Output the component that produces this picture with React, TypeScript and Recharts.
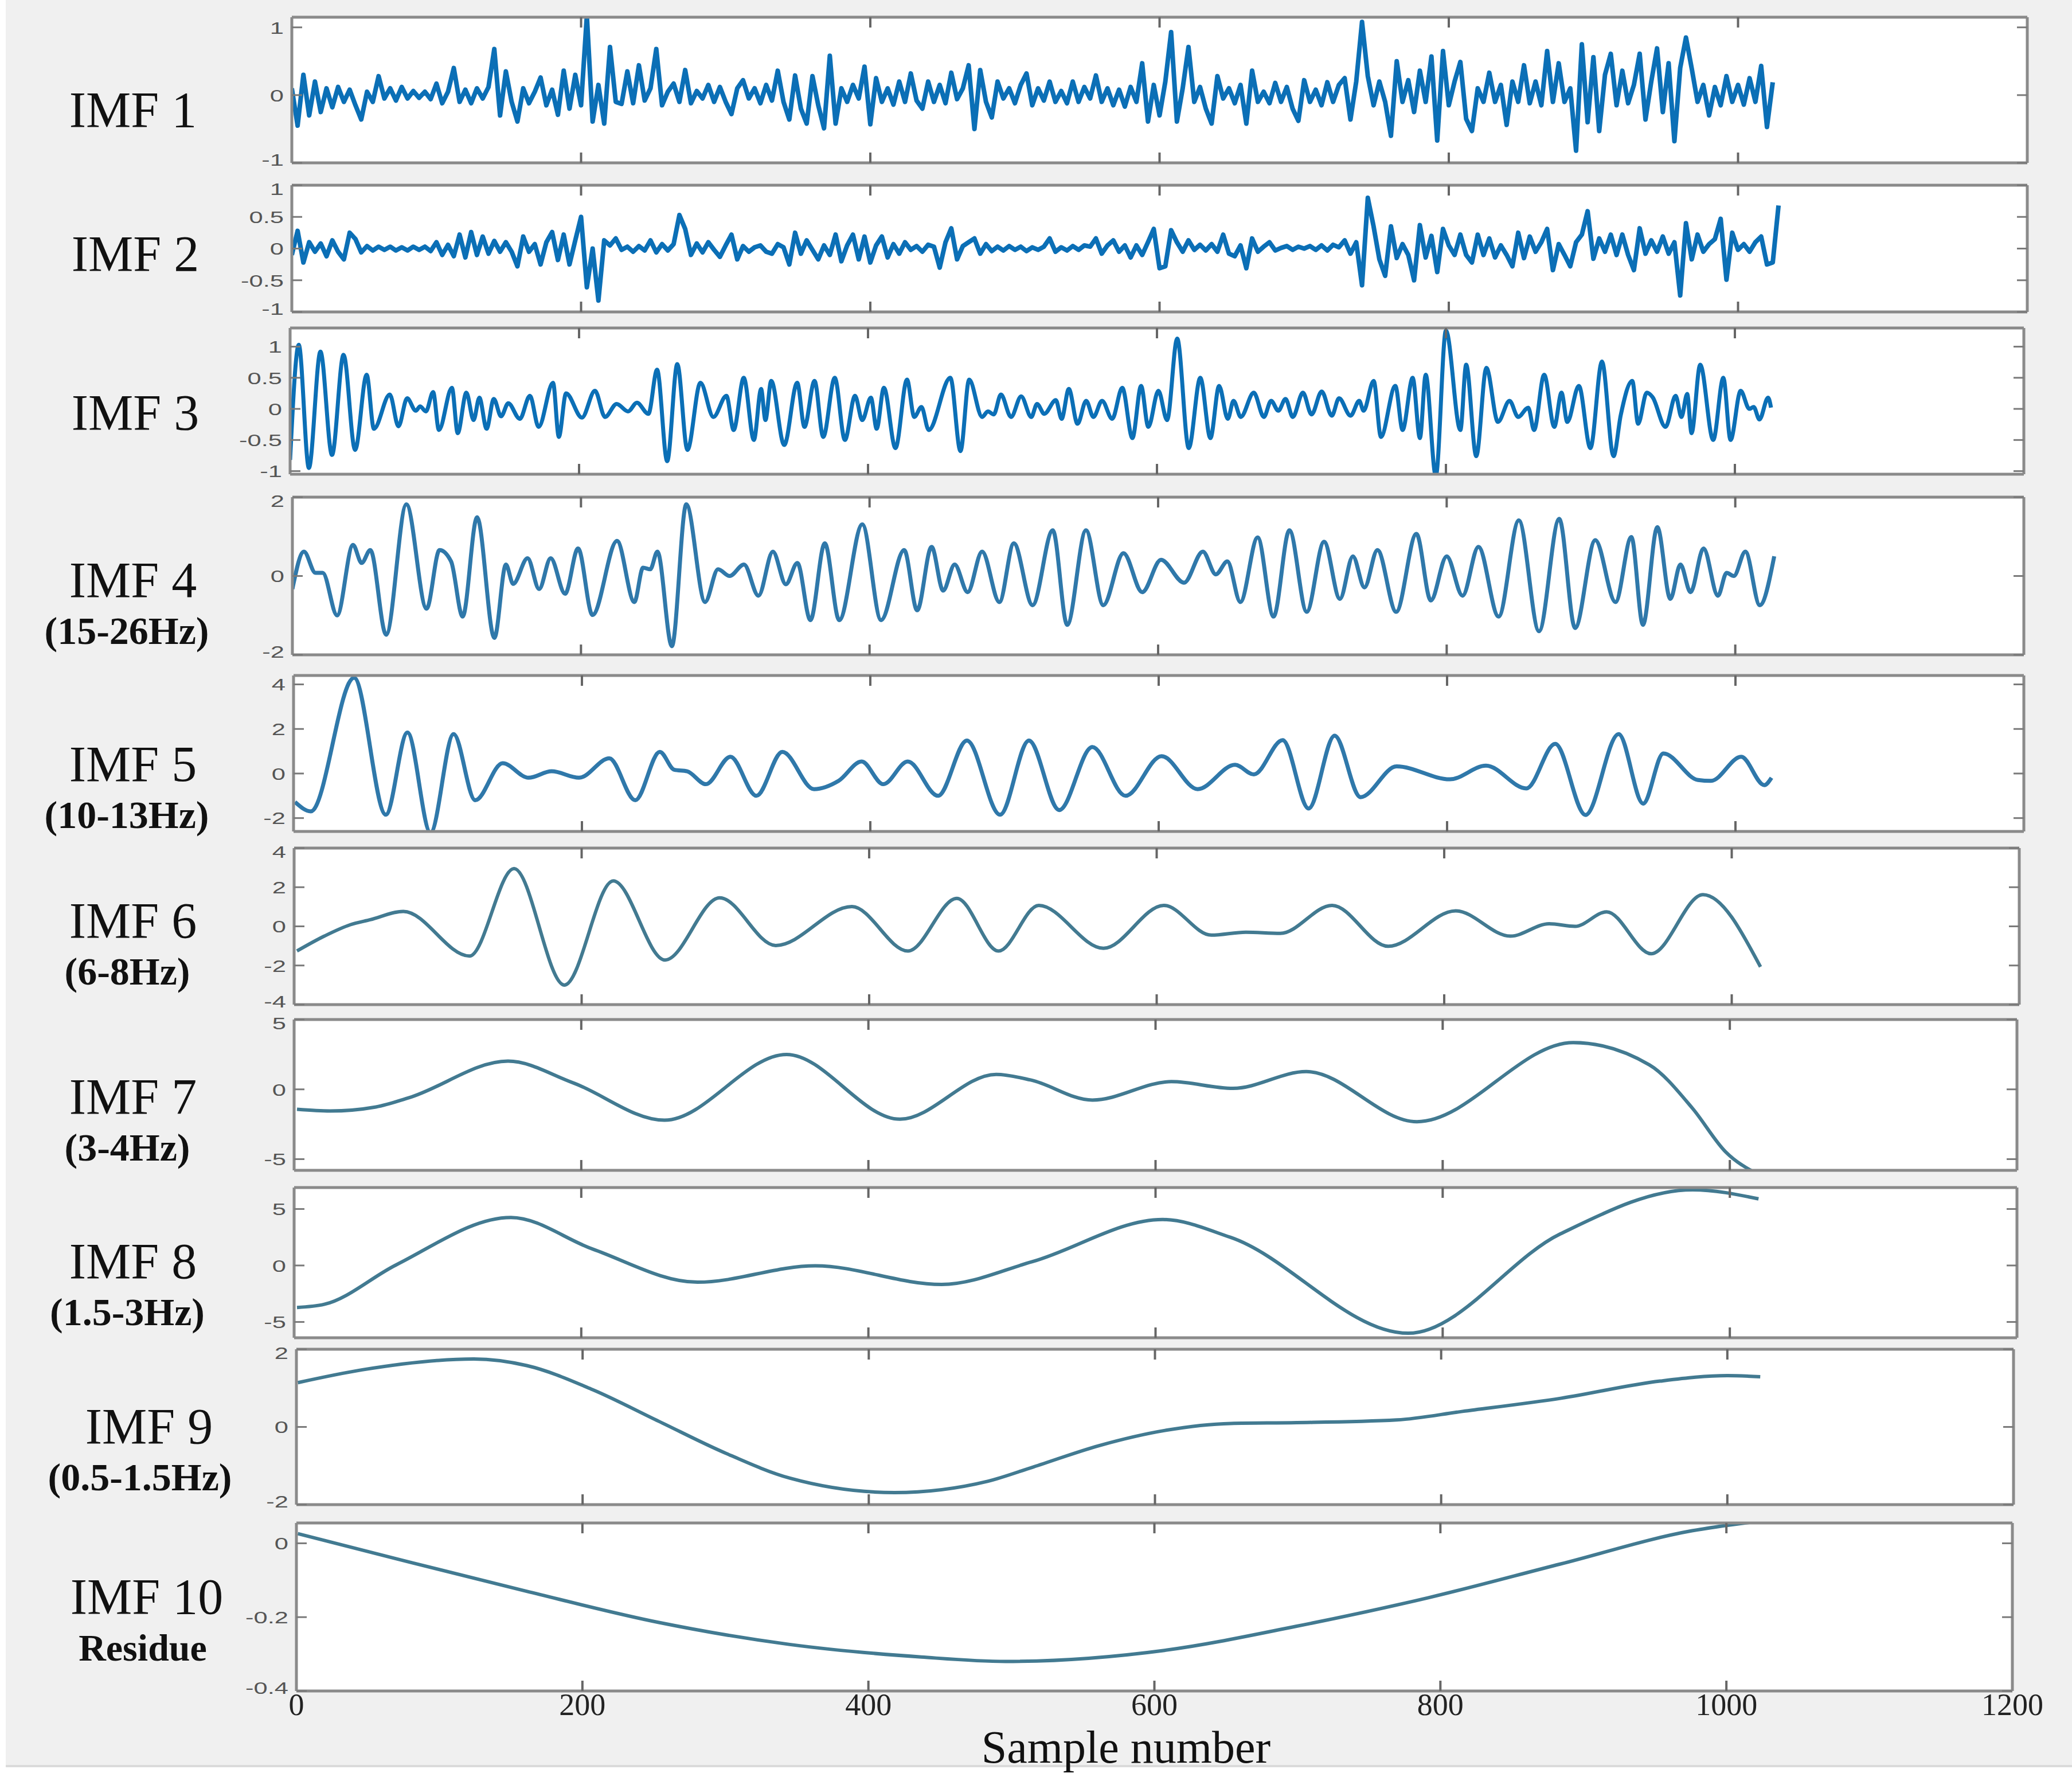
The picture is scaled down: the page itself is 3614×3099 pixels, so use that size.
import React from "react"
import { LineChart, Line, XAxis, YAxis, CartesianGrid } from "recharts"

const PAGE_W = 3614
const PAGE_H = 3099
const STEP = 4 // IMF 1 and IMF 2 are read every 4 samples

const xTicks = [0, 200, 400, 600, 800, 1000, 1200]

// IMF 1, one value every 4 samples (0 .. 1024)
const imf1Values = [
  0.1, -0.45, 0.3, -0.3, 0.2, -0.25, 0.1, -0.18, 0.12, -0.1,
  0.08, -0.15, -0.36, 0.05, -0.1, 0.28, -0.05, 0.1, -0.08, 0.12,
  -0.05, 0.06, -0.04, 0.05, -0.06, 0.17, -0.12, 0.05, 0.4, -0.1,
  0.08, -0.12, 0.1, -0.05, 0.12, 0.68, -0.3, 0.35, -0.1, -0.39,
  0.1, -0.12, 0.05, 0.26, -0.15, 0.08, -0.29, 0.36, -0.2, 0.3,
  -0.15, 1.17, -0.39, 0.15, -0.42, 0.71, -0.1, -0.13, 0.35, -0.12,
  0.44, -0.08, 0.1, 0.68, -0.15, 0.05, 0.17, -0.1, 0.37, -0.12,
  0.06, -0.05, 0.15, -0.1, 0.12, -0.1, -0.28, 0.1, 0.22, -0.05,
  0.1, -0.12, 0.15, -0.08, 0.36, -0.1, -0.36, 0.29, -0.2, -0.42,
  0.28, -0.15, -0.49, 0.58, -0.42, 0.1, -0.1, 0.15, -0.05, 0.42,
  -0.43, 0.25, -0.1, 0.1, -0.14, 0.2, -0.1, 0.32, -0.08, -0.2,
  0.2, -0.1, 0.15, -0.12, 0.33, -0.06, 0.1, 0.44, -0.5, 0.37,
  -0.1, -0.33, 0.2, -0.05, 0.1, -0.12, 0.15, 0.32, -0.15, 0.1,
  -0.08, 0.2, -0.1, 0.06, -0.12, 0.2, -0.1, 0.12, -0.05, 0.29,
  -0.1, 0.1, -0.15, 0.08, -0.17, 0.12, -0.1, 0.47, -0.39, 0.15,
  -0.3, 0.2, 0.93, -0.39, 0.1, 0.71, -0.1, 0.12, -0.2, -0.42,
  0.28, -0.05, 0.1, -0.12, 0.15, -0.42, 0.36, -0.1, 0.05, -0.12,
  0.18, -0.1, 0.12, -0.2, -0.38, 0.22, -0.1, 0.08, -0.15, 0.19,
  -0.1, 0.15, 0.25, -0.36, 0.2, 1.08, 0.28, -0.15, 0.2, -0.1,
  -0.6, 0.5, -0.1, 0.22, -0.25, 0.36, -0.1, 0.57, -0.67, 0.65,
  -0.15, 0.2, 0.49, -0.35, -0.53, 0.1, -0.1, 0.33, -0.1, 0.15,
  -0.44, 0.2, -0.1, 0.44, -0.12, 0.2, -0.15, 0.65, -0.1, 0.47,
  -0.1, 0.1, -0.82, 0.75, -0.4, 0.56, -0.53, 0.3, 0.61, -0.15,
  0.36, -0.12, 0.15, 0.61, -0.36, 0.2, 0.69, -0.25, 0.47, -0.68,
  0.4, 0.85, 0.39, -0.1, 0.15, -0.3, 0.12, -0.15, 0.28, -0.1,
  0.15, -0.14, 0.25, -0.1, 0.43, -0.47, 0.19,
]

// IMF 2, one value every 4 samples (0 .. 1028)
const imf2Values = [
  -0.1, 0.28, -0.22, 0.1, -0.05, 0.08, -0.12, 0.13, -0.05, -0.17,
  0.25, 0.15, -0.06, 0.04, -0.03, 0.03, -0.02, 0.03, -0.03, 0.02,
  -0.03, 0.03, -0.02, 0.03, -0.04, 0.1, -0.1, 0.06, -0.12, 0.22,
  -0.14, 0.26, -0.1, 0.19, -0.08, 0.12, -0.05, 0.1, -0.05, -0.28,
  0.19, -0.05, 0.07, -0.25, 0.1, 0.26, -0.18, 0.22, -0.25, 0.13,
  0.5, -0.61, 0.0, -0.82, 0.13, 0.05, 0.16, -0.02, 0.03, -0.05,
  0.04, -0.03, 0.13, -0.06, 0.07, -0.03, 0.07, 0.53, 0.31, -0.1,
  0.08, -0.06, 0.1, -0.02, -0.13, 0.05, 0.22, -0.17, 0.04, -0.05,
  0.02, 0.05, -0.05, -0.08, 0.07, 0.02, -0.25, 0.25, -0.08, 0.13,
  -0.02, -0.17, 0.05, -0.1, 0.22, -0.2, 0.05, 0.22, -0.17, 0.19,
  -0.22, 0.05, 0.19, -0.14, 0.07, -0.08, 0.1, -0.02, 0.04, -0.05,
  0.06, 0.03, -0.3, 0.1, 0.32, -0.17, 0.04, 0.1, 0.16, -0.08,
  0.07, -0.04, 0.03, -0.03, 0.04, -0.02, 0.03, -0.04, 0.02, -0.02,
  0.03, 0.16, -0.05, 0.02, -0.03, 0.04, -0.02, 0.05, 0.03, 0.16,
  -0.08, 0.05, 0.13, -0.05, 0.05, -0.14, 0.05, -0.1, 0.1, 0.31,
  -0.31, -0.28, 0.29, 0.1, -0.05, 0.13, -0.02, 0.06, -0.03, 0.07,
  -0.05, 0.22, -0.08, -0.12, 0.05, -0.31, 0.16, -0.05, 0.03, 0.1,
  -0.03, 0.01, 0.04, -0.02, 0.03, 0.0, 0.04, -0.02, 0.05, -0.03,
  0.06, 0.02, 0.13, -0.08, 0.1, -0.58, 0.8, 0.35, -0.17, -0.43,
  0.35, -0.15, 0.07, -0.1, -0.5, 0.37, -0.14, 0.2, -0.37, 0.31,
  0.05, -0.1, 0.22, -0.1, -0.22, 0.22, -0.1, 0.16, -0.14, 0.05,
  -0.1, -0.28, 0.25, -0.15, 0.19, -0.05, 0.1, 0.31, -0.34, 0.07,
  -0.1, -0.28, 0.1, 0.22, 0.59, -0.16, 0.16, -0.05, 0.22, -0.1,
  0.22, -0.1, -0.34, 0.32, -0.08, 0.13, -0.05, 0.19, -0.08, 0.1,
  -0.74, 0.4, -0.17, 0.22, -0.05, 0.07, 0.15, 0.47, -0.49, 0.25,
  -0.02, 0.07, -0.05, 0.1, 0.19, -0.25, -0.22, 0.68,
]

// IMF 3 .. 10: [sample, value] at the turning points
const imf3Points: [number, number][] = [
  [0, -0.82], [6, 1.03], [13, -0.95], [21, 0.92], [29, -0.74], [37, 0.87], [45, -0.66], [53, 0.55],
  [58, -0.32], [69, 0.23], [75, -0.28], [81, 0.17], [87, -0.03], [90, 0.04], [94, -0.04], [99, 0.27],
  [103, -0.34], [112, 0.34], [116, -0.39], [122, 0.26], [127, -0.18], [131, 0.18], [136, -0.32],
  [141, 0.16], [146, -0.12], [151, 0.09], [159, -0.16], [166, 0.21], [172, -0.29], [182, 0.42],
  [186, -0.45], [191, 0.25], [202, -0.14], [211, 0.29], [218, -0.13], [226, 0.08], [234, -0.04],
  [240, 0.1], [248, -0.08], [254, 0.63], [261, -0.84], [268, 0.72], [275, -0.66], [284, 0.42],
  [293, -0.13], [302, 0.21], [307, -0.34], [314, 0.5], [321, -0.5], [326, 0.32], [329, -0.18],
  [333, 0.45], [342, -0.58], [351, 0.42], [356, -0.29], [363, 0.45], [369, -0.45], [377, 0.5],
  [384, -0.5], [391, 0.21], [396, -0.18], [402, 0.18], [406, -0.32], [411, 0.34], [419, -0.63],
  [427, 0.47], [432, -0.13], [437, 0.03], [442, -0.34], [457, 0.5], [464, -0.68], [470, 0.47],
  [479, -0.13], [483, -0.04], [487, -0.09], [492, 0.23], [499, -0.13], [506, 0.2], [513, -0.13],
  [517, 0.08], [522, -0.08], [530, 0.14], [534, -0.16], [539, 0.32], [545, -0.24], [551, 0.13],
  [556, -0.13], [562, 0.13], [569, -0.16], [576, 0.34], [583, -0.47], [589, 0.37], [594, -0.29],
  [601, 0.29], [607, -0.18], [614, 1.13], [622, -0.63], [630, 0.5], [637, -0.47], [643, 0.37],
  [649, -0.16], [653, 0.13], [658, -0.13], [667, 0.26], [674, -0.13], [679, 0.13], [684, -0.03],
  [689, 0.16], [694, -0.13], [701, 0.26], [707, -0.09], [714, 0.28], [721, -0.11], [726, 0.17],
  [734, -0.11], [740, 0.13], [743, -0.03], [750, 0.45], [755, -0.45], [765, 0.37], [770, -0.34],
  [777, 0.5], [782, -0.47], [786, 0.55], [793, -1.08], [800, 1.26], [810, -0.34], [814, 0.71],
  [821, -0.76], [828, 0.66], [836, -0.21], [844, 0.13], [850, -0.13], [857, 0.02], [861, -0.34],
  [868, 0.55], [875, -0.29], [880, 0.26], [884, -0.21], [892, 0.37], [900, -0.63], [908, 0.76],
  [916, -0.76], [921, -0.1], [929, 0.45], [933, -0.24], [939, 0.26], [943, 0.19], [952, -0.29],
  [959, 0.21], [963, -0.13], [967, 0.24], [970, -0.39], [976, 0.71], [985, -0.5], [992, 0.5],
  [997, -0.5], [1004, 0.29], [1010, 0.0], [1013, 0.03], [1017, -0.17], [1023, 0.18], [1025, 0.02],
]

const imf4Points: [number, number][] = [
  [0, -0.33], [8, 0.62], [16, 0.08], [21, 0.08], [31, -1.0], [42, 0.79], [48, 0.33], [54, 0.66],
  [65, -1.49], [79, 1.82], [93, -0.83], [102, 0.66], [110, 0.37], [118, -1.03], [128, 1.49],
  [140, -1.57], [148, 0.29], [153, -0.2], [163, 0.45], [171, -0.33], [179, 0.45], [189, -0.45],
  [198, 0.7], [208, -0.99], [225, 0.89], [237, -0.66], [243, 0.21], [248, 0.17], [253, 0.62],
  [263, -1.78], [273, 1.82], [286, -0.66], [295, 0.17], [303, 0.0], [313, 0.29], [323, -0.5],
  [333, 0.62], [342, -0.21], [350, 0.33], [359, -1.12], [369, 0.83], [379, -1.12], [395, 1.31],
  [408, -1.12], [424, 0.66], [433, -0.87], [443, 0.74], [451, -0.37], [459, 0.29], [468, -0.41],
  [478, 0.62], [490, -0.66], [500, 0.83], [513, -0.74], [527, 1.16], [537, -1.24], [550, 1.16],
  [562, -0.74], [576, 0.58], [589, -0.41], [602, 0.41], [618, -0.17], [631, 0.62], [640, 0.04],
  [648, 0.37], [657, -0.66], [669, 0.98], [680, -1.03], [691, 1.16], [703, -0.91], [715, 0.87],
  [726, -0.58], [735, 0.5], [743, -0.29], [752, 0.66], [765, -0.91], [779, 1.07], [789, -0.62],
  [800, 0.5], [811, -0.5], [822, 0.74], [836, -1.03], [850, 1.41], [864, -1.4], [878, 1.45],
  [889, -1.32], [903, 0.91], [917, -0.66], [928, 0.99], [936, -1.24], [946, 1.24], [955, -0.58],
  [962, 0.29], [969, -0.41], [978, 0.7], [988, -0.5], [994, 0.08], [999, 0.0], [1007, 0.62],
  [1017, -0.74], [1027, 0.5],
]

const imf5Points: [number, number][] = [
  [1, -1.28], [12, -1.7], [42, 4.3], [64, -1.85], [79, 1.84], [95, -2.65], [111, 1.77], [126, -1.2],
  [145, 0.46], [163, -0.19], [179, 0.1], [198, -0.19], [219, 0.68], [237, -1.2], [254, 0.97],
  [264, 0.17], [273, 0.1], [286, -0.48], [303, 0.75], [321, -1.0], [339, 0.97], [361, -0.7],
  [378, -0.33], [394, 0.54], [409, -0.48], [426, 0.54], [447, -1.0], [467, 1.48], [490, -1.85],
  [510, 1.48], [531, -1.64], [554, 1.19], [577, -1.0], [602, 0.78], [627, -0.7], [653, 0.39],
  [666, -0.04], [686, 1.5], [704, -1.57], [722, 1.7], [740, -1.06], [765, 0.32], [802, -0.26],
  [827, 0.35], [855, -0.67], [875, 1.33], [896, -1.86], [919, 1.77], [936, -1.35], [950, 0.9],
  [974, -0.29], [983, -0.33], [1004, 0.75], [1020, -0.52], [1025, -0.19],
]

const imf6Points: [number, number][] = [
  [2, -1.26], [21, -0.5], [39, 0.08], [53, 0.34], [76, 0.76], [122, -1.52], [153, 2.95], [188, -3.0],
  [222, 2.32], [258, -1.72], [296, 1.46], [335, -0.98], [388, 1.01], [427, -1.26], [461, 1.43],
  [490, -1.26], [518, 1.07], [563, -1.12], [605, 1.07], [638, -0.45], [662, -0.3], [686, -0.36],
  [722, 1.07], [761, -1.02], [808, 0.79], [846, -0.5], [873, 0.13], [891, 0.0], [913, 0.74],
  [944, -1.4], [980, 1.62], [1020, -2.07],
]

const imf7Points: [number, number][] = [
  [2, -1.43], [25, -1.55], [57, -1.26], [80, -0.6], [149, 2.02], [194, 0.48], [258, -2.21],
  [343, 2.5], [422, -2.14], [489, 1.07], [513, 0.67], [556, -0.77], [611, 0.55], [654, 0.07],
  [705, 1.27], [782, -2.32], [891, 3.35], [944, 1.75], [974, -1.36], [997, -4.47], [1020, -6.1],
]

const imf8Points: [number, number][] = [
  [2, -3.72], [21, -3.44], [71, 0.05], [151, 4.25], [208, 1.45], [281, -1.48], [363, -0.03],
  [451, -1.68], [514, 0.33], [605, 4.07], [652, 2.5], [776, -6.0], [882, 2.8], [974, 6.7], [1020, 5.9],
]

const imf9Points: [number, number][] = [
  [1, 1.14], [46, 1.47], [124, 1.75], [161, 1.58], [207, 0.96], [253, 0.15], [299, -0.66],
  [345, -1.32], [418, -1.69], [483, -1.4], [515, -1.03], [561, -0.48], [607, -0.09], [653, 0.09],
  [699, 0.11], [769, 0.18], [815, 0.4], [884, 0.74], [953, 1.18], [1000, 1.32], [1023, 1.29],
]

const imf10Points: [number, number][] = [
  [1, 0.026], [69, -0.041], [161, -0.13], [253, -0.214], [345, -0.274], [437, -0.308], [496, -0.32],
  [607, -0.29], [699, -0.225], [792, -0.147], [884, -0.056], [976, 0.034], [1023, 0.06],
]

const fromValues = (values: number[]) => values.map((v, i) => ({ s: i * STEP, v }))
const fromPoints = (points: [number, number][]) => points.map(([s, v]) => ({ s, v }))

const BRIGHT = "#0b6fb6"
const MID = "#2f78aa"
const DULL = "#427a91"

const panels = [
  { name: "IMF 1", data: fromValues(imf1Values), domain: [-1, 1.15], ticks: [-1, 0, 1], top: 30, bottom: 284, left: 509, right: 3536, color: BRIGHT, width: 8, curve: "linear" },
  { name: "IMF 2", data: fromValues(imf2Values), domain: [-1, 1], ticks: [-1, -0.5, 0, 0.5, 1], top: 323, bottom: 544, left: 509, right: 3536, color: BRIGHT, width: 8, curve: "linear" },
  { name: "IMF 3", data: fromPoints(imf3Points), domain: [-1.05, 1.3], ticks: [-1, -0.5, 0, 0.5, 1], top: 572, bottom: 827, left: 506, right: 3530, color: BRIGHT, width: 7, curve: "monotone" },
  { name: "IMF 4", data: fromPoints(imf4Points), domain: [-2, 2], ticks: [-2, 0, 2], top: 867, bottom: 1142, left: 510, right: 3530, color: MID, width: 7, curve: "monotone" },
  { name: "IMF 5", data: fromPoints(imf5Points), domain: [-2.6, 4.4], ticks: [-2, 0, 2, 4], top: 1178, bottom: 1450, left: 512, right: 3530, color: MID, width: 7, curve: "monotone" },
  { name: "IMF 6", data: fromPoints(imf6Points), domain: [-4, 4], ticks: [-4, -2, 0, 2, 4], top: 1479, bottom: 1752, left: 513, right: 3522, color: DULL, width: 6, curve: "monotone" },
  { name: "IMF 7", data: fromPoints(imf7Points), domain: [-5.8, 5], ticks: [-5, 0, 5], top: 1778, bottom: 2041, left: 513, right: 3518, color: DULL, width: 6, curve: "monotone" },
  { name: "IMF 8", data: fromPoints(imf8Points), domain: [-6.4, 6.9], ticks: [-5, 0, 5], top: 2071, bottom: 2333, left: 513, right: 3518, color: DULL, width: 6, curve: "monotone" },
  { name: "IMF 9", data: fromPoints(imf9Points), domain: [-2, 2], ticks: [-2, 0, 2], top: 2353, bottom: 2624, left: 517, right: 3512, color: DULL, width: 6, curve: "monotone" },
  { name: "IMF 10", data: fromPoints(imf10Points), domain: [-0.4, 0.055], ticks: [-0.4, -0.2, 0], top: 2656, bottom: 2949, left: 517, right: 3510, color: DULL, width: 6, curve: "monotone" },
]

// side labels: [text, centre x, baseline y, size, bold]
const sideLabels: [string, number, number, number, boolean][] = [
  ["IMF 1", 232, 221, 88, false],
  ["IMF 2", 236, 472, 88, false],
  ["IMF 3", 236, 749, 88, false],
  ["IMF 4", 232, 1041, 88, false],
  ["(15-26Hz)", 221, 1123, 68, true],
  ["IMF 5", 232, 1362, 88, false],
  ["(10-13Hz)", 221, 1444, 68, true],
  ["IMF 6", 232, 1635, 88, false],
  ["(6-8Hz)", 222, 1717, 68, true],
  ["IMF 7", 232, 1942, 88, false],
  ["(3-4Hz)", 222, 2024, 68, true],
  ["IMF 8", 232, 2229, 88, false],
  ["(1.5-3Hz)", 222, 2311, 68, true],
  ["IMF 9", 260, 2517, 88, false],
  ["(0.5-1.5Hz)", 244, 2599, 68, true],
  ["IMF 10", 256, 2814, 88, false],
  ["Residue", 249, 2896, 66, true],
]

const SERIF = "'Liberation Serif', 'Times New Roman', serif"
const SANS = "'Liberation Sans', Arial, sans-serif"
const frame = { stroke: "#8a8a8a", strokeWidth: 5 }
const TICK_LEN = 18

const makeLeftTick = (domain: number[]) => (props: any) => {
  const { x, y, payload } = props
  // labels sitting on the frame edge are nudged inwards a little
  const nudge = payload.value === domain[1] ? 6 : payload.value === domain[0] ? -6 : 0
  return (
    <g>
      <line x1={x} y1={y} x2={x + TICK_LEN} y2={y} stroke="#7a7a7a" strokeWidth={3} />
      <text
        transform={`translate(${x - 14},${y + nudge}) scale(1.45,1)`}
        dy="0.36em"
        textAnchor="end"
        fontSize={30}
        fill="#555"
        fontFamily={SANS}
      >
        {payload.value}
      </text>
    </g>
  )
}

const RightTick = (props: any) => {
  const { x, y } = props
  return <line x1={x} y1={y} x2={x - TICK_LEN} y2={y} stroke="#7a7a7a" strokeWidth={3} />
}

const TopTick = (props: any) => {
  const { x, y, payload } = props
  if (payload.value === 0 || payload.value === 1200) return <g />
  return <line x1={x} y1={y} x2={x} y2={y + TICK_LEN} stroke="#666" strokeWidth={4} />
}

const makeBottomTick = (showLabel: boolean) => (props: any) => {
  const { x, y, payload } = props
  const edge = payload.value === 0 || payload.value === 1200
  return (
    <g>
      {!edge && <line x1={x} y1={y} x2={x} y2={y - TICK_LEN} stroke="#666" strokeWidth={4} />}
      {showLabel && (
        <text x={x} y={y + 42} textAnchor="middle" fontSize={54} fill="#222" fontFamily={SERIF}>
          {payload.value}
        </text>
      )}
    </g>
  )
}

function Panel({ p, last }: { p: (typeof panels)[number]; last: boolean }) {
  const padTop = 40
  const padBottom = last ? 80 : 40
  const h = p.bottom - p.top
  // axes take 1px each, so the margins are reduced by that much
  return (
    <div style={{ position: "absolute", left: 0, top: p.top - padTop }}>
      <LineChart
        width={PAGE_W}
        height={h + padTop + padBottom}
        data={p.data}
        margin={{ top: padTop - 1, bottom: padBottom - 1, left: p.left - 1, right: PAGE_W - p.right - 1 }}
      >
        <CartesianGrid xAxisId="bottom" yAxisId="left" horizontal={false} vertical={false} fill="#ffffff" stroke="none" />
        <XAxis
          xAxisId="bottom"
          dataKey="s"
          type="number"
          domain={[0, 1200]}
          ticks={xTicks}
          interval={0}
          allowDataOverflow
          height={1}
          tickSize={0}
          tickMargin={0}
          tickLine={false}
          axisLine={frame}
          tick={makeBottomTick(last)}
        />
        <XAxis
          xAxisId="top"
          orientation="top"
          dataKey="s"
          type="number"
          domain={[0, 1200]}
          ticks={xTicks}
          interval={0}
          allowDataOverflow
          height={1}
          tickSize={0}
          tickMargin={0}
          tickLine={false}
          axisLine={frame}
          tick={TopTick}
        />
        <YAxis
          yAxisId="left"
          type="number"
          domain={p.domain}
          ticks={p.ticks}
          interval={0}
          allowDataOverflow
          width={1}
          tickSize={0}
          tickMargin={0}
          tickLine={false}
          axisLine={frame}
          tick={makeLeftTick(p.domain)}
        />
        <YAxis
          yAxisId="right"
          orientation="right"
          type="number"
          domain={p.domain}
          ticks={p.ticks}
          interval={0}
          allowDataOverflow
          width={1}
          tickSize={0}
          tickMargin={0}
          tickLine={false}
          axisLine={frame}
          tick={RightTick}
        />
        <Line
          xAxisId="bottom"
          yAxisId="left"
          dataKey="v"
          type={p.curve as any}
          stroke={p.color}
          strokeWidth={p.width}
          strokeLinejoin="round"
          dot={false}
          activeDot={false}
          isAnimationActive={false}
        />
      </LineChart>
    </div>
  )
}

export default function App() {
  return (
    <div style={{ position: "absolute", left: 0, top: 0, width: PAGE_W, height: PAGE_H, background: "#ffffff", overflow: "hidden" }}>
      <div
        style={{
          position: "absolute",
          left: 10,
          top: 0,
          width: PAGE_W - 10,
          height: 3078,
          background: "#f0f0f0",
          borderBottom: "4px solid #dadada",
        }}
      />
      {panels.map((p, i) => (
        <Panel key={p.name} p={p} last={i === panels.length - 1} />
      ))}
      <svg width={PAGE_W} height={PAGE_H} style={{ position: "absolute", left: 0, top: 0, pointerEvents: "none" }}>
        {sideLabels.map(([text, cx, y, size, bold]) => (
          <text key={text} x={cx} y={y} textAnchor="middle" fontSize={size} fontWeight={bold ? 700 : 400} fill="#111" fontFamily={SERIF}>
            {text}
          </text>
        ))}
        <text x={1964} y={3074} textAnchor="middle" fontSize={80} fill="#111" fontFamily={SERIF}>
          Sample number
        </text>
      </svg>
    </div>
  )
}
